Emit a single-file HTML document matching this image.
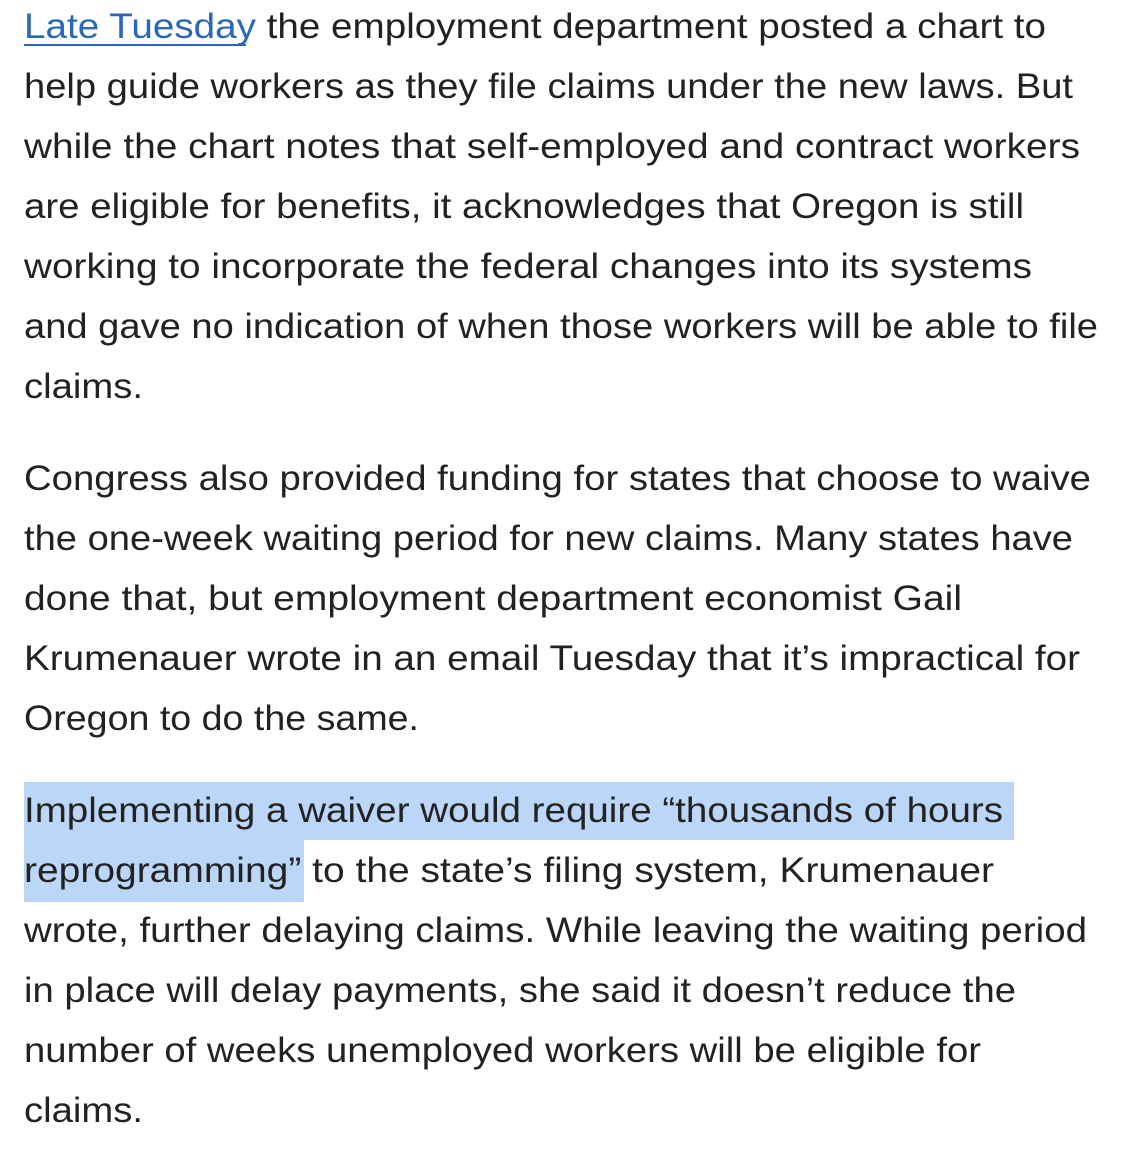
<!DOCTYPE html>
<html><head><meta charset="utf-8"><style>
html,body{margin:0;padding:0;background:#fff;}
svg{display:block;}
text{font-family:"Liberation Sans",sans-serif;font-size:35px;fill:#222;}
</style></head><body>
<svg width="1138" height="1160" viewBox="0 0 1138 1160">
<rect x="24" y="782" width="990" height="58" fill="#bcd6f7"/>
<rect x="24" y="840" width="280" height="62" fill="#bcd6f7"/>
<g>
<text x="24" y="38" textLength="1022" lengthAdjust="spacingAndGlyphs"><tspan fill="#2a67b8">Late Tuesday</tspan> the employment department posted a chart to</text>
<line x1="24" y1="45" x2="246" y2="45" stroke="#2a67b8" stroke-width="2"/>
<text x="24" y="98" textLength="1049" lengthAdjust="spacingAndGlyphs">help guide workers as they file claims under the new laws. But</text>
<text x="24" y="158" textLength="1056" lengthAdjust="spacingAndGlyphs">while the chart notes that self-employed and contract workers</text>
<text x="24" y="218" textLength="1000" lengthAdjust="spacingAndGlyphs">are eligible for benefits, it acknowledges that Oregon is still</text>
<text x="24" y="278" textLength="1008" lengthAdjust="spacingAndGlyphs">working to incorporate the federal changes into its systems</text>
<text x="24" y="338" textLength="1074" lengthAdjust="spacingAndGlyphs">and gave no indication of when those workers will be able to file</text>
<text x="24" y="398" textLength="119" lengthAdjust="spacingAndGlyphs">claims.</text>
</g>
<g>
<text x="24" y="490" textLength="1067" lengthAdjust="spacingAndGlyphs">Congress also provided funding for states that choose to waive</text>
<text x="24" y="550" textLength="1049" lengthAdjust="spacingAndGlyphs">the one-week waiting period for new claims. Many states have</text>
<text x="24" y="610" textLength="938" lengthAdjust="spacingAndGlyphs">done that, but employment department economist Gail</text>
<text x="24" y="670" textLength="1056" lengthAdjust="spacingAndGlyphs">Krumenauer wrote in an email Tuesday that it’s impractical for</text>
<text x="24" y="730" textLength="395" lengthAdjust="spacingAndGlyphs">Oregon to do the same.</text>
</g>
<g>
<text x="24" y="822" textLength="979" lengthAdjust="spacingAndGlyphs">Implementing a waiver would require “thousands of hours</text>
<text x="24" y="882" textLength="970" lengthAdjust="spacingAndGlyphs">reprogramming” to the state’s filing system, Krumenauer</text>
<text x="24" y="942" textLength="1063" lengthAdjust="spacingAndGlyphs">wrote, further delaying claims. While leaving the waiting period</text>
<text x="24" y="1002" textLength="992" lengthAdjust="spacingAndGlyphs">in place will delay payments, she said it doesn’t reduce the</text>
<text x="24" y="1062" textLength="957" lengthAdjust="spacingAndGlyphs">number of weeks unemployed workers will be eligible for</text>
<text x="24" y="1122" textLength="119" lengthAdjust="spacingAndGlyphs">claims.</text>
</g>
</svg>
</body></html>
